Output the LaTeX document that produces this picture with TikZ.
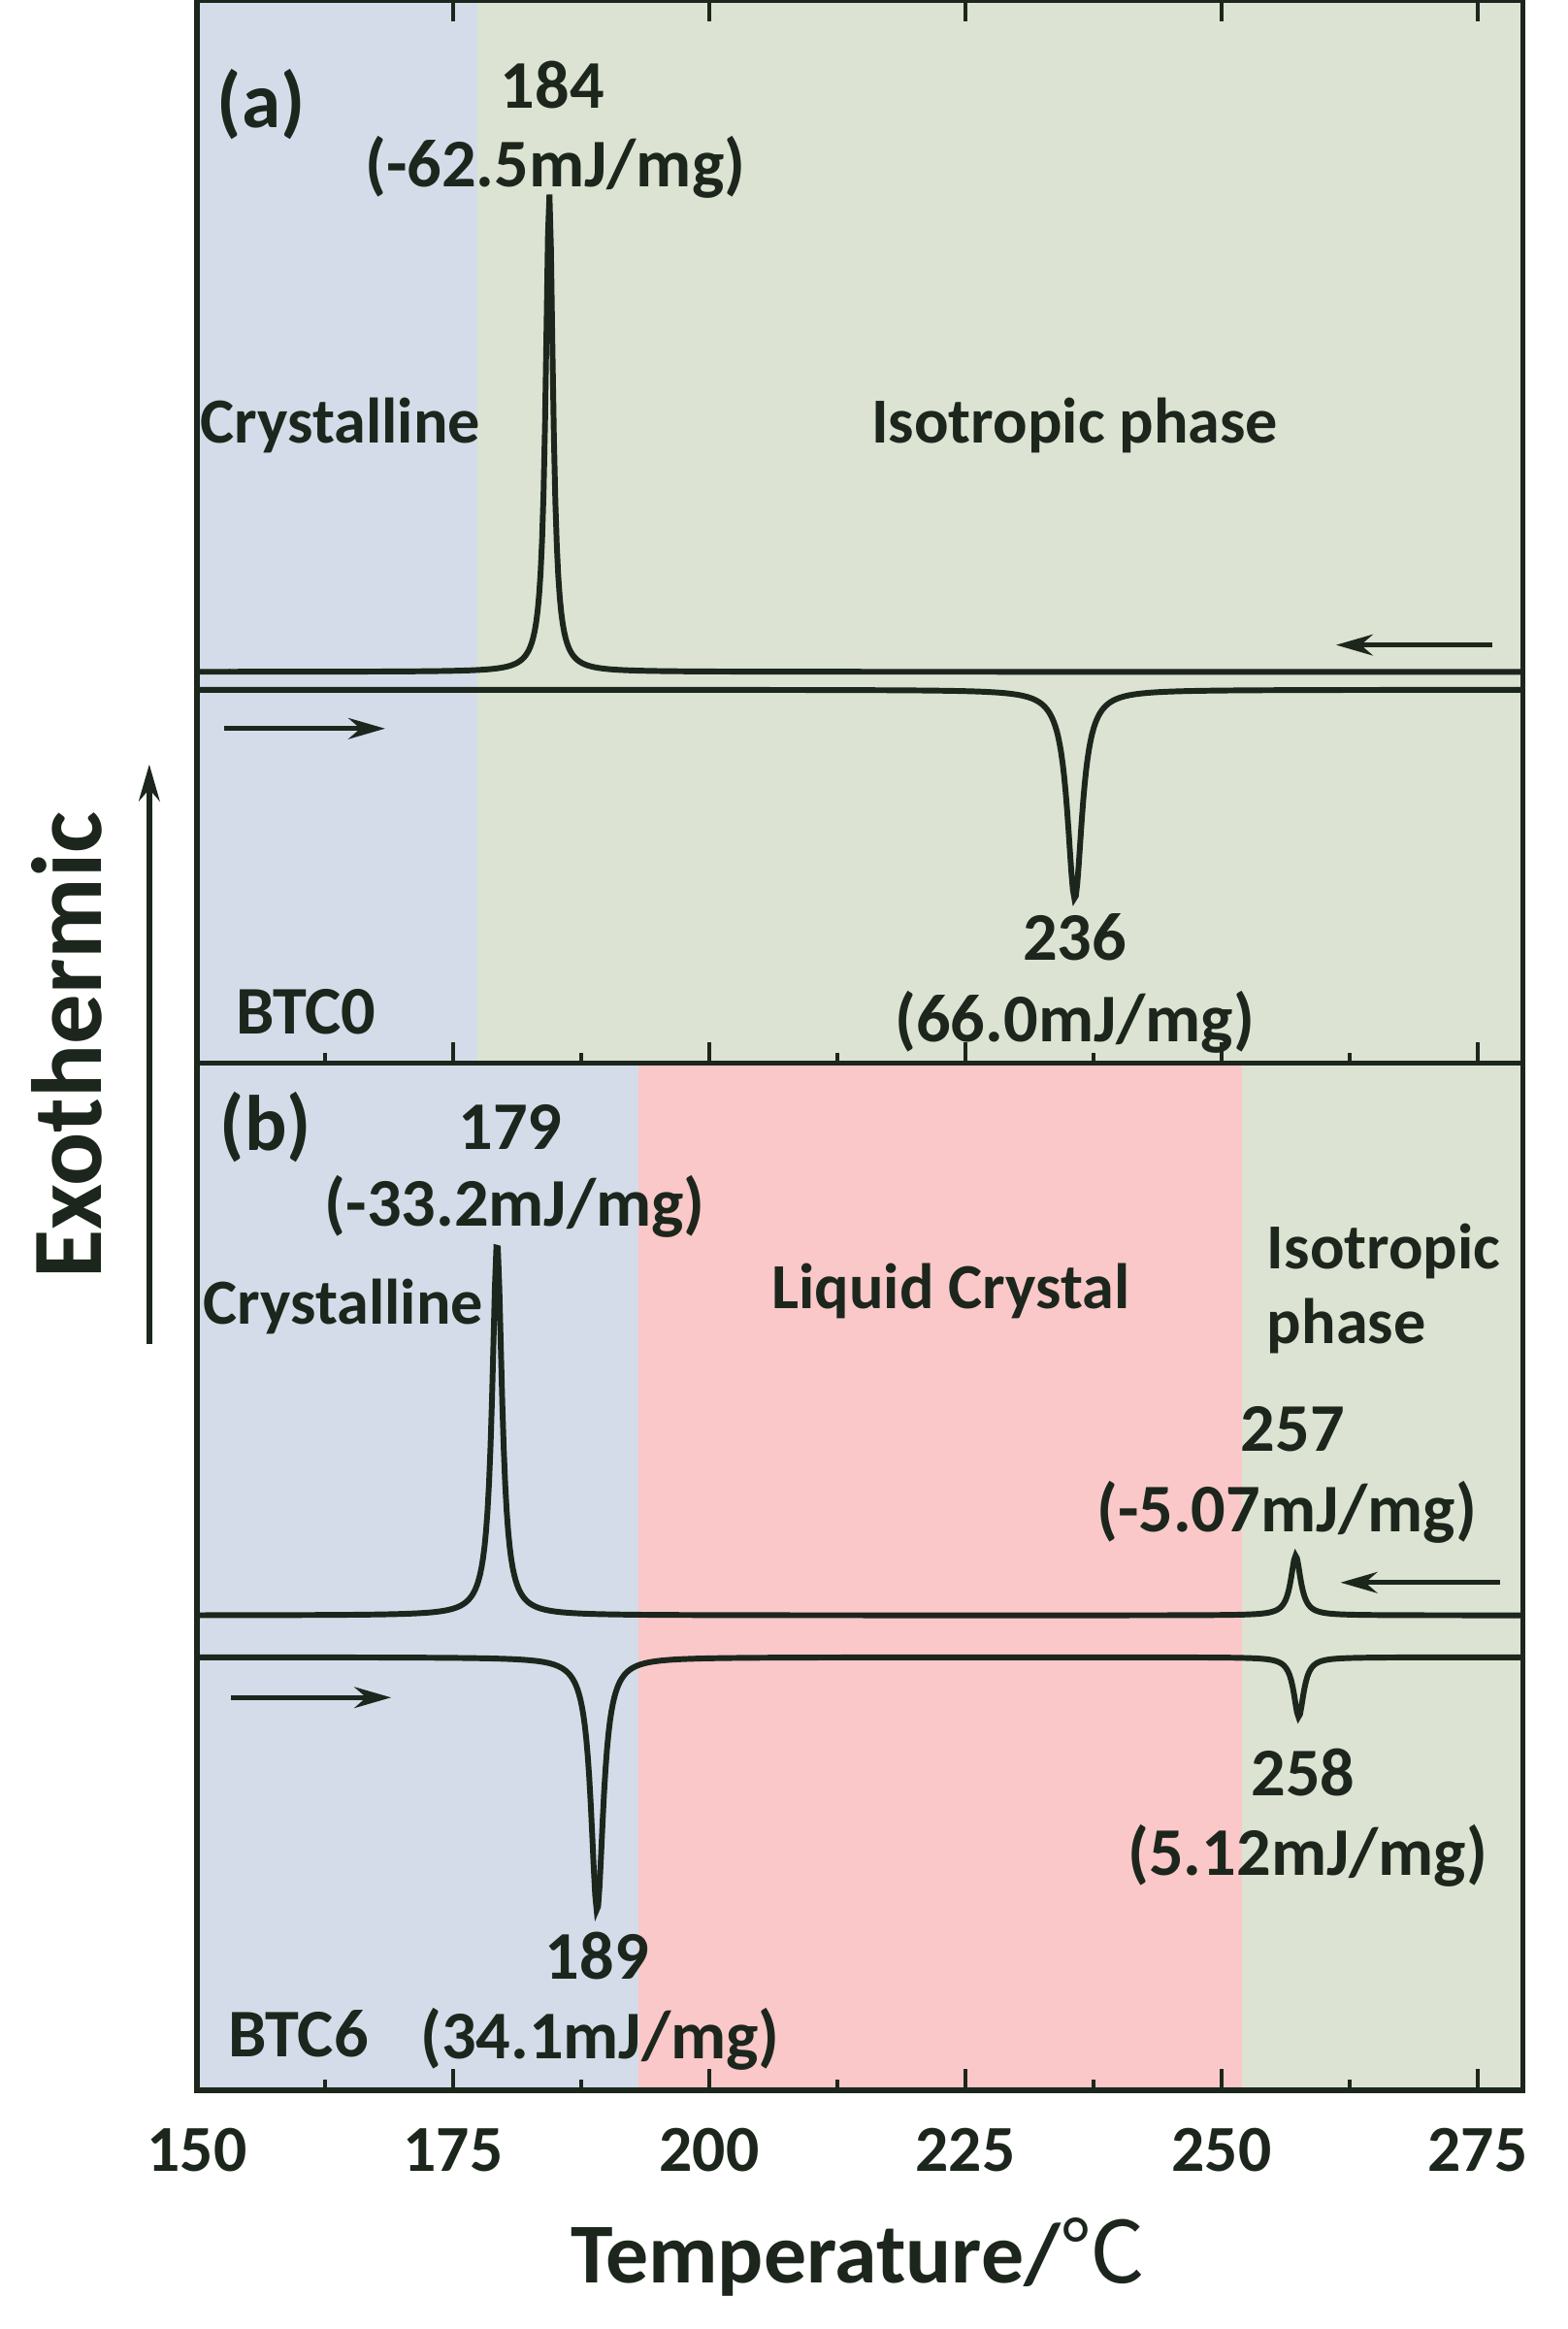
\documentclass[tikz,border=0pt]{standalone}
\usepackage{fontspec}
\setmainfont{Carlito}
\newfontfamily\cjk{Noto Sans CJK SC}
\usetikzlibrary{arrows.meta}
\definecolor{cblue}{HTML}{D3DCE8}
\definecolor{cgreen}{HTML}{DCE3D2}
\definecolor{cpink}{HTML}{FAC8C8}
\definecolor{ink}{HTML}{1C261C}
\begin{document}
\begin{tikzpicture}[x=0.02cm,y=-0.02cm,
  declare function={lor(\x,\c,\w)=1/(1+(min(abs(\x-\c)/\w,100))^2);},
  lbl/.style={font=\fontsize{26}{28}\selectfont\bfseries,text=ink,inner sep=0pt},
  sm/.style={lbl,font=\fontsize{24.5}{27}\selectfont\bfseries},
  curve/.style={line width=2.2pt,ink},
  dir/.style={line width=2pt,ink,-{Stealth[length=14pt,width=8pt]}}]
\useasboundingbox (0,0) rectangle (1050,1560);
\fill[white] (0,0) rectangle (1050,1560);
\fill[cblue] (132,0) rectangle (320,712);
\fill[cgreen] (320,0) rectangle (1020,712);
\fill[cblue] (132,712) rectangle (428,1400);
\fill[cpink] (428,712) rectangle (832,1400);
\fill[cgreen] (832,712) rectangle (1020,1400);
\draw[line width=2pt,ink] (132,0) rectangle (1020,1400);
\draw[line width=2pt,ink] (132,712) -- (1020,712);
\foreach \t in {150,175,...,275}{
  \draw[line width=1.6pt,ink] ({132+(\t-150)*6.864},1400) -- ++(0,-14);
  \draw[line width=1.6pt,ink] ({132+(\t-150)*6.864},712) -- ++(0,-14);
  \draw[line width=1.6pt,ink] ({132+(\t-150)*6.864},0) -- ++(0,14);
  \node[lbl,font=\fontsize{25}{27}\selectfont\bfseries] (t\t) at ({132+(\t-150)*6.864},1440) {\t};}
\foreach \t in {162.5,187.5,...,262.5}{
  \draw[line width=1.4pt,ink] ({132+(\t-150)*6.864},1400) -- ++(0,-7);
  \draw[line width=1.4pt,ink] ({132+(\t-150)*6.864},712) -- ++(0,-7);}
\draw[curve] plot[domain=132:1020,samples=900] (\x,{450-320*lor(\x,368,3)});
\draw[curve] plot[domain=132:1020,samples=900] (\x,{462+140*lor(\x,720,6)});
\draw[curve] plot[domain=132:1020,samples=900] (\x,{1082-250*lor(\x,333,4)-40*lor(\x,868,4)});
\draw[curve] plot[domain=132:1020,samples=900] (\x,{1110+170*lor(\x,400,5)+40*lor(\x,870,4)});
\coordinate (a1) at (1000,432); \coordinate (a2) at (895,432);
\draw[dir] (a1) -- (a2);
\coordinate (a3) at (150,488); \coordinate (a4) at (258,488);
\draw[dir] (a3) -- (a4);
\coordinate (b1) at (1005,1060); \coordinate (b2) at (898,1060);
\draw[dir] (b1) -- (b2);
\coordinate (b3) at (155,1137); \coordinate (b4) at (262,1137);
\draw[dir] (b3) -- (b4);
\coordinate (e1) at (100,900); \coordinate (e2) at (100,512);
\draw[dir] (e1) -- (e2);
\node[lbl,font=\fontsize{30}{32}\selectfont\bfseries] (la) at (175,70) {(a)};
\node[lbl] (p184) at (370,57) {184};
\node[lbl] (h184) at (372,112) {(-62.5mJ/mg)};
\node[sm] (cra) at (228,285) {Crystalline};
\node[sm] (isa) at (720,285) {Isotropic phase};
\node[lbl] (p236) at (720,628) {236};
\node[lbl] (h236) at (720,685) {(66.0mJ/mg)};
\node[lbl] (btc0) at (205,678) {BTC0};
\node[lbl,font=\fontsize{30}{32}\selectfont\bfseries] (lb) at (178,755) {(b)};
\node[lbl] (p179) at (342,755) {179};
\node[lbl] (h179) at (345,808) {(-33.2mJ/mg)};
\node[sm] (crb) at (230,875) {Crystalline};
\node[sm] (lc) at (637,865) {Liquid Crystal};
\node[sm] (isb) at (927,838) {Isotropic};
\node[sm] (phb) at (902,888) {phase};
\node[lbl] (p257) at (866,957) {257};
\node[lbl] (h257) at (862,1013) {(-5.07mJ/mg)};
\node[lbl] (p258) at (873,1187) {258};
\node[lbl] (h258) at (876,1243) {(5.12mJ/mg)};
\node[lbl] (p189) at (400,1310) {189};
\node[lbl] (h189) at (402,1366) {(34.1mJ/mg)};
\node[lbl] (btc6) at (200,1362) {BTC6};
\node[lbl,font=\fontsize{38}{40}\selectfont\bfseries,rotate=90] (exo) at (45,700) {Exothermic};
\node[lbl,font=\fontsize{32.5}{34}\selectfont\bfseries] (xl) at (575,1512) {Temperature/{\cjk\mdseries ℃}};
\end{tikzpicture}
\end{document}
